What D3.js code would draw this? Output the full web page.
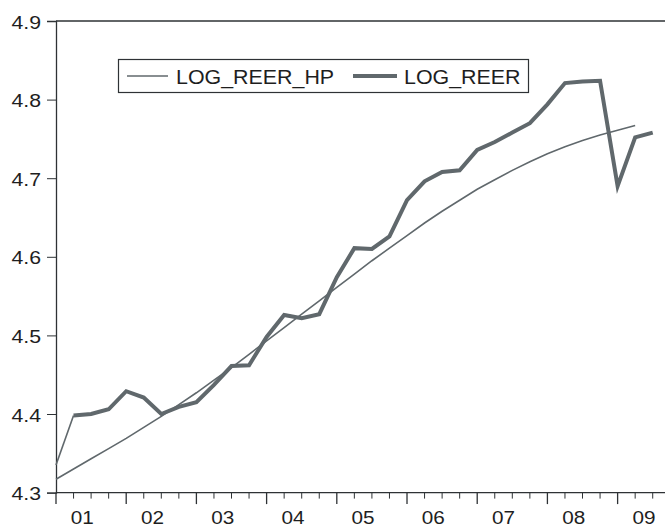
<!DOCTYPE html>
<html>
<head>
<meta charset="utf-8">
<script src="https://cdn.jsdelivr.net/npm/d3@7"></script>
<style>
  html, body { margin: 0; padding: 0; background: #fff; }
  svg { display: block; }
  text { font-family: "Liberation Sans", Arial, sans-serif; fill: #1e1e1e; }
</style>
</head>
<body>
<script>
// Quarterly observations, 2001Q1 onward
const years = ["01", "02", "03", "04", "05", "06", "07", "08", "09"];
const yTicks = [4.3, 4.4, 4.5, 4.6, 4.7, 4.8, 4.9];
const seriesNames = ["LOG_REER_HP", "LOG_REER"];

const logReer = [
  4.335, 4.398, 4.400, 4.406, 4.429, 4.421, 4.400, 4.409,
  4.415, 4.437, 4.461, 4.462, 4.498, 4.526, 4.522, 4.527,
  4.574, 4.611, 4.610, 4.626, 4.672, 4.696, 4.708, 4.710,
  4.736, 4.746, 4.758, 4.770, 4.794, 4.821, 4.823, 4.824,
  4.690, 4.752, 4.758
];
const logReerHP = [
  4.317, 4.330, 4.343, 4.356, 4.369, 4.383, 4.397, 4.412,
  4.427, 4.443, 4.459, 4.476, 4.493, 4.510, 4.527, 4.544,
  4.561, 4.578, 4.595, 4.611, 4.627, 4.643, 4.658, 4.672,
  4.686, 4.698, 4.710, 4.721, 4.731, 4.740, 4.748, 4.755,
  4.761, 4.767
];

(function () {
const W = 665, H = 526;
const mLeft = 56, mRight = 665, mTop = 21, mBottom = 492.6;
const lineColor = "#60686c";
const axisColor = "#2e3235";

const svg = d3.select("body").append("svg").attr("width", W).attr("height", H);

const x = d3.scaleLinear().domain([0, 34.7]).range([mLeft, mRight]);
const y = d3.scaleLinear().domain([4.3, 4.9]).range([mBottom, mTop]);

// Frame: top line
svg.append("line").attr("x1", mLeft).attr("x2", mRight).attr("y1", mTop).attr("y2", mTop)
  .attr("stroke", axisColor).attr("stroke-width", 1.3);

// Y axis
const yAxis = svg.append("g").attr("transform", `translate(${mLeft},0)`)
  .call(d3.axisLeft(y).tickValues(yTicks).tickFormat(d3.format(".1f")).tickSize(9).tickPadding(0));
yAxis.select(".domain").attr("stroke", axisColor).attr("stroke-width", 1.3);
yAxis.selectAll(".tick line").attr("stroke", axisColor).attr("stroke-width", 1);
yAxis.selectAll(".tick text").each(function () {
  d3.select(this).attr("x", null).attr("dy", null)
   .attr("transform", "translate(-15,7) scale(1.12,1)")
   .attr("text-anchor", "end")
   .style("font-size", "19px").style("fill", "#1e1e1e");
});

// X axis (quarterly minor ticks, yearly major ticks)
const nQ = logReer.length + 1;
const quarterIdx = d3.range(0, nQ);
const xg = svg.append("g");
xg.append("line").attr("x1", mLeft).attr("x2", mRight).attr("y1", mBottom).attr("y2", mBottom)
  .attr("stroke", axisColor).attr("stroke-width", 1.3);
xg.selectAll("line.tk").data(quarterIdx.filter(i => x(i) <= mRight)).join("line")
  .attr("class", "tk")
  .attr("x1", i => x(i)).attr("x2", i => x(i))
  .attr("y1", mBottom).attr("y2", i => mBottom + (i % 4 === 0 ? 11.5 : 6))
  .attr("stroke", axisColor).attr("stroke-width", i => i % 4 === 0 ? 1.3 : 1);
xg.selectAll("text.yl").data(years).join("text")
  .attr("class", "yl")
  .attr("text-anchor", "middle")
  .attr("transform", (d, k) => `translate(${x(4 * k + 1.5)},523.5) scale(1.12,1)`)
  .style("font-size", "18.5px")
  .text(d => d);

// Lines
const line = d3.line().x((d, i) => x(i)).y(d => y(d));
const lineOffset = (off) => d3.line().x((d, i) => x(i + off)).y(d => y(d));

svg.append("path").datum(logReerHP).attr("d", line)
  .attr("fill", "none").attr("stroke", lineColor).attr("stroke-width", 1.6);
// first segment of LOG_REER drawn thin
svg.append("path").datum(logReer.slice(0, 2)).attr("d", line)
  .attr("fill", "none").attr("stroke", lineColor).attr("stroke-width", 1.6);
svg.append("path").datum(logReer.slice(1)).attr("d", lineOffset(1))
  .attr("fill", "none").attr("stroke", lineColor).attr("stroke-width", 4)
  .attr("stroke-linejoin", "miter");

// Legend
const lg = svg.append("g");
lg.append("rect").attr("x", 118.5).attr("y", 59.5).attr("width", 410).attr("height", 33)
  .attr("fill", "#fff").attr("stroke", axisColor).attr("stroke-width", 1.2);
lg.append("line").attr("x1", 127).attr("x2", 168).attr("y1", 76).attr("y2", 76)
  .attr("stroke", lineColor).attr("stroke-width", 1.6);
lg.append("text").attr("transform", "translate(176,83.5) scale(1.07,1)")
  .style("font-size", "20px").text(seriesNames[0]);
lg.append("line").attr("x1", 353).attr("x2", 397).attr("y1", 76).attr("y2", 76)
  .attr("stroke", lineColor).attr("stroke-width", 4);
lg.append("text").attr("transform", "translate(404,83.5) scale(1.07,1)")
  .style("font-size", "20px").text(seriesNames[1]);
})();
</script>
</body>
</html>
